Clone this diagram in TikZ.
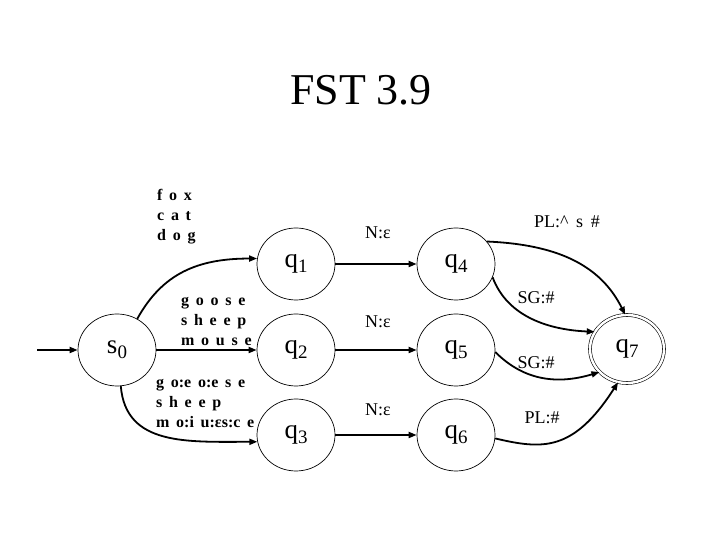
\documentclass[tikz,border=0pt]{standalone}
\usepackage{fontspec}
\setmainfont{Liberation Serif}
\usetikzlibrary{arrows.meta,shapes.geometric}
\newcommand{\stname}[2]{{\fontsize{27}{27}\selectfont #1\raisebox{-5pt}{\fontsize{19}{19}\selectfont #2}}}
\newcommand{\widesp}{\spaceskip=0.42em plus 0.1em}
\tikzset{
  state/.style={draw, ellipse, line width=0.7pt, minimum width=78pt, minimum height=72pt, inner sep=0pt},
  final/.style={draw, ellipse, line width=0.6pt, double, double distance=2.4pt, minimum width=74pt, minimum height=68pt, inner sep=0pt},
  edge/.style={line width=1.8pt, -{Triangle[length=8pt,width=6pt]}},
  wlab/.style={font=\fontsize{16}{20}\selectfont\bfseries\widesp, align=left, inner sep=0pt},
  elab/.style={font=\fontsize{18}{18}\selectfont, inner sep=0pt}
}
\begin{document}
\begin{tikzpicture}[x=1pt,y=1pt]
\useasboundingbox (0,0) rectangle (720,540);
\node[anchor=base, font=\fontsize{44}{44}\selectfont] (title) at (361,435) {FST 3.9};

\node[state] (s0) at (117,190) {\stname{s}{0}};
\node[state] (q1) at (296,276) {\stname{q}{1}};
\node[state] (q2) at (296,190) {\stname{q}{2}};
\node[state] (q3) at (296,105) {\stname{q}{3}};
\node[state] (q4) at (456,276) {\stname{q}{4}};
\node[state] (q5) at (456,190) {\stname{q}{5}};
\node[state] (q6) at (456,105) {\stname{q}{6}};
\node[final] (q7) at (627,191) {\stname{q}{7}};
\coordinate (init) at (37,190);

\draw[edge] (init) -- (s0.west);
\draw[edge] (s0.57) .. controls +(25,45) and +(-60,0) .. (q1.172);
\draw[edge] (s0.east) -- (q2.west);
\draw[edge] (s0.-84) .. controls +(5,-60) and +(-70,0) .. (q3.190);
\draw[edge] (q1.east) -- (q4.west);
\draw[edge] (q2.east) -- (q5.west);
\draw[edge] (q3.east) -- (q6.west);
\draw[edge] (q4.36) .. controls +(70,-3) and +(-25,50) .. (q7.93);
\draw[edge] (q4.-20) .. controls +(15,-40) and +(-45,2) .. (q7.152);
\draw[edge] (q5.-3) .. controls +(30,-30) and +(-40,-12) .. (q7.-140);
\draw[edge] (q6.-5) .. controls +(47,-11) and +(-45,-70) .. (q7.-105);

\node[wlab, anchor=west] (l1) at (157,323) {f o x\\c a t\\d o g};
\node[wlab, anchor=west] (l2) at (181,219) {g o o s e\\s h e e p\\m o u s e};
\node[wlab, anchor=west] (l3) at (156,136) {g o:e o:e s e\\s h e e p\\m o:i u:εs:c e};

\node[elab] (n1) at (378,307) {N:ε};
\node[elab] (n2) at (378,218) {N:ε};
\node[elab] (n3) at (378,130) {N:ε};
\node[elab, font=\fontsize{18}{18}\selectfont\widesp] (p1) at (567,318) {PL:\^{} s \#};
\node[elab] (g1) at (536,242) {SG:\#};
\node[elab] (g2) at (536,177) {SG:\#};
\node[elab] (p2) at (542,122) {PL:\#};
\end{tikzpicture}
\end{document}
